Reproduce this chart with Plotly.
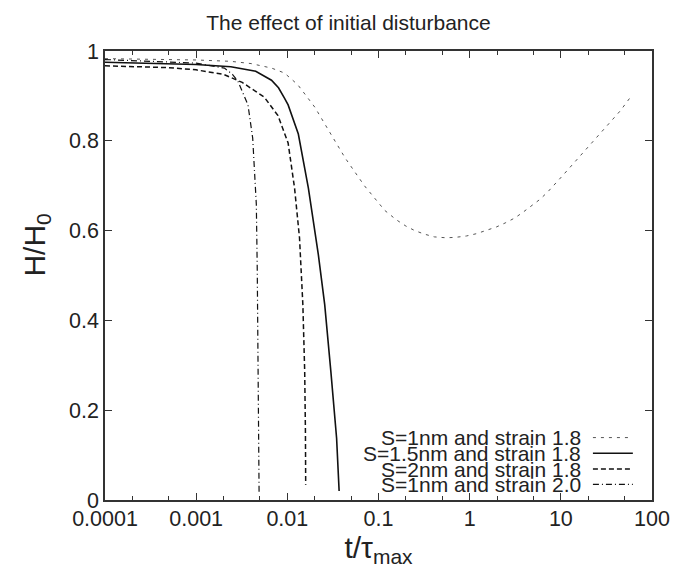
import plotly.graph_objects as go

# ---- data ----
series_names = [
    "S=1nm and strain 1.8",
    "S=1.5nm and strain 1.8",
    "S=2nm and strain 1.8",
    "S=1nm and strain 2.0",
]

t_s1_18 = [1e-4, 2e-4, 5e-4, 1e-3, 2.4e-3, 4e-3, 6.7e-3, 9.3e-3, 0.013, 0.02, 0.03, 0.043,
           0.07, 0.117, 0.157, 0.2, 0.25, 0.32, 0.41, 0.55, 0.70, 0.92, 1.18, 1.52, 1.96,
           2.45, 3.12, 3.85, 4.74, 5.85, 7.1, 8.55, 10.1, 12.0, 14.4, 20.0, 30.0, 45.0, 57.0]
h_s1_18 = [0.983, 0.982, 0.981, 0.980, 0.977, 0.972, 0.962, 0.951, 0.925, 0.875, 0.815, 0.762,
           0.700, 0.645, 0.624, 0.610, 0.600, 0.592, 0.586, 0.584, 0.585, 0.588, 0.593, 0.600, 0.608,
           0.617, 0.628, 0.641, 0.654, 0.669, 0.685, 0.702, 0.719, 0.736, 0.754, 0.787, 0.827, 0.867, 0.895]

t_s15_18 = [1e-4, 3e-4, 1e-3, 2.4e-3, 4.5e-3, 6.7e-3, 8e-3, 9.3e-3, 0.0102, 0.0132, 0.017,
            0.0219, 0.0257, 0.030, 0.0347, 0.037]
h_s15_18 = [0.975, 0.973, 0.970, 0.965, 0.955, 0.935, 0.918, 0.895, 0.880, 0.815, 0.695,
            0.546, 0.435, 0.287, 0.138, 0.020]

t_s2_18 = [1e-4, 5e-4, 1e-3, 2e-3, 3.2e-3, 5.6e-3, 7.9e-3, 0.0102, 0.012, 0.0136, 0.0148,
           0.0155, 0.0158, 0.0159]
h_s2_18 = [0.967, 0.963, 0.958, 0.948, 0.930, 0.897, 0.856, 0.795, 0.695, 0.584, 0.435,
           0.287, 0.150, 0.034]

t_s1_20 = [1e-4, 1e-3, 2.04e-3, 2.5e-3, 2.88e-3, 3.2e-3, 3.7e-3, 4.17e-3, 4.4e-3, 4.57e-3,
           4.68e-3, 4.78e-3, 4.9e-3]
h_s1_20 = [0.981, 0.973, 0.962, 0.948, 0.932, 0.910, 0.880, 0.806, 0.700, 0.658,
           0.510, 0.287, 0.016]

x_tickvals = [1e-4, 1e-3, 1e-2, 1e-1, 1, 10, 100]
x_ticktext = ["0.0001", "0.001", "0.01", "0.1", "1", "10", "100"]
y_tickvals = [0, 0.2, 0.4, 0.6, 0.8, 1]
y_ticktext = ["0", "0.2", "0.4", "0.6", "0.8", "1"]

# ---- styles ----
styles = [
    dict(color="#555555", width=1.0, dash="3px,5px"),
    dict(color="#111111", width=1.6, dash="solid"),
    dict(color="#111111", width=1.5, dash="5px,3px"),
    dict(color="#111111", width=1.2, dash="6px,3px,1px,3px"),
]
xs = [t_s1_18, t_s15_18, t_s2_18, t_s1_20]
ys = [h_s1_18, h_s15_18, h_s2_18, h_s1_20]

FONT = "Liberation Sans, Arial, sans-serif"
fig = go.Figure()
for name, x, y, st in zip(series_names, xs, ys, styles):
    fig.add_trace(go.Scatter(x=x, y=y, mode="lines", name=name, line=st, showlegend=False))

# custom gnuplot-style legend: right-aligned text, sample line to the right
leg_y = [0.139, 0.104, 0.069, 0.035]
for name, st, ly in zip(series_names, styles, leg_y):
    fig.add_annotation(xref="paper", yref="paper", x=0.874, y=ly, text=name,
                       showarrow=False, xanchor="right", yanchor="middle",
                       font=dict(family=FONT, size=21, color="#222222"))
    fig.add_shape(type="line", xref="paper", yref="paper", x0=0.892, x1=0.965,
                  y0=ly, y1=ly, line=st)

# y axis title as annotation
fig.add_annotation(xref="paper", yref="paper", x=-0.125, y=0.568, text="H/H<sub>0</sub>",
                   textangle=-90, showarrow=False, xanchor="center", yanchor="middle",
                   font=dict(family=FONT, size=30, color="#222222"))

axis_common = dict(showline=True, linecolor="#333333", linewidth=1.5, mirror="ticks",
                   ticks="inside", tickcolor="#333333", ticklen=7, tickwidth=1,
                   showgrid=False, zeroline=False, automargin=False,
                   tickfont=dict(family=FONT, size=21.5, color="#222222"))

fig.update_layout(
    width=681, height=569,
    margin=dict(l=97, r=37, t=43, b=77),
    paper_bgcolor="white", plot_bgcolor="white",
    title=dict(text="The effect of initial disturbance", x=0.5, xanchor="center",
               yref="container", y=0.974, yanchor="middle",
               font=dict(family=FONT, size=21, color="#222222")),
    xaxis=dict(type="log", range=[-4, 2], tickvals=x_tickvals, ticktext=x_ticktext,
               ticklabelstandoff=-2,
               minor=dict(ticks="inside", ticklen=4, tickcolor="#333333", dtick="D2", showgrid=False),
               title=dict(text="t/τ<sub>max</sub>", standoff=4,
                          font=dict(family=FONT, size=30, color="#222222")),
               **axis_common),
    yaxis=dict(range=[0, 1], tickvals=y_tickvals, ticktext=y_ticktext, **axis_common),
)

fig.write_html("out.html")
